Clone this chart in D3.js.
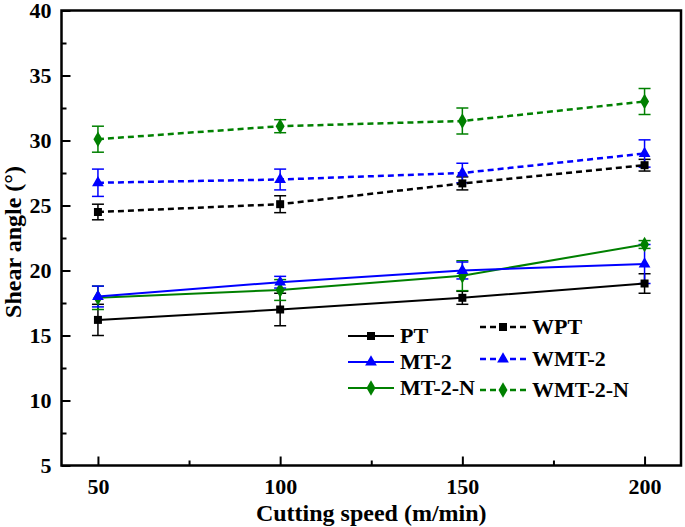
<!DOCTYPE html>
<html>
<head>
<meta charset="utf-8">
<script src="https://cdn.jsdelivr.net/npm/d3@7/dist/d3.min.js"></script>
<style>
  html, body { margin: 0; padding: 0; background: #fff; }
  svg { display: block; }
  text { font-family: "Liberation Serif", "Times New Roman", serif; font-weight: bold; fill: #000; }
</style>
</head>
<body>
<svg id="chart" width="685" height="527"></svg>
<script>
// ---- data ----
const speeds = [50, 100, 150, 200];
const seriesNames = ["PT", "MT-2", "MT-2-N", "WPT", "WMT-2", "WMT-2-N"];
const PT       = [16.2, 17.0, 17.9, 19.0];
const PT_err   = [1.2, 1.25, 0.5, 0.75];
const MT2      = [18.0, 19.1, 20.0, 20.5];
const MT2_err  = [0.8, 0.45, 0.65, 1.5];
const MT2N     = [17.9, 18.5, 19.6, 22.0];
const MT2N_err = [0.9, 0.8, 1.15, 0.3];
const WPT      = [24.5, 25.1, 26.7, 28.1];
const WPT_err  = [0.6, 0.65, 0.5, 0.45];
const WMT2     = [26.75, 27.0, 27.5, 29.0];
const WMT2_err = [1.05, 0.8, 0.75, 1.05];
const WMT2N    = [30.1, 31.1, 31.5, 33.0];
const WMT2N_err= [1.0, 0.5, 1.0, 1.0];
const xTicks = [50, 100, 150, 200];
const yTicks = [5, 10, 15, 20, 25, 30, 35, 40];
const xLabel = "Cutting speed (m/min)";
const yLabel = "Shear angle (°)";

const series = [
  {name: "WPT", vals: WPT, err: WPT_err, color: "#000000", dash: true, marker: "square"},
  {name: "WMT-2", vals: WMT2, err: WMT2_err, color: "#0000ff", dash: true, marker: "triangle"},
  {name: "WMT-2-N", vals: WMT2N, err: WMT2N_err, color: "#008000", dash: true, marker: "diamond"},
  {name: "PT", vals: PT, err: PT_err, color: "#000000", dash: false, marker: "square"},
  {name: "MT-2-N", vals: MT2N, err: MT2N_err, color: "#008000", dash: false, marker: "diamond"},
  {name: "MT-2", vals: MT2, err: MT2_err, color: "#0000ff", dash: false, marker: "triangle"}
];

// ---- layout ----
const svg = d3.select("#chart");
const L = 61.5, R = 681, T = 10.5, B = 465.5;
const x = d3.scaleLinear().domain([40, 210]).range([L, R]);
const y = d3.scaleLinear().domain([5, 40]).range([B, T]);

const symbolOf = m => m === "square" ? d3.symbolSquare : (m === "triangle" ? d3.symbolTriangle : d3.symbolDiamond);
const sizeOf = m => m === "square" ? 64 : (m === "triangle" ? 60 : 70);

// error bars
const gErr = svg.append("g");
series.forEach(s => {
  speeds.forEach((sp, i) => {
    const cx = x(sp), y1 = y(s.vals[i] + s.err[i]), y0 = y(s.vals[i] - s.err[i]);
    gErr.append("line").attr("x1", cx).attr("x2", cx).attr("y1", y1).attr("y2", y0)
      .attr("stroke", s.color).attr("stroke-width", 1.5);
    [y1, y0].forEach(yy => gErr.append("line").attr("x1", cx - 6).attr("x2", cx + 6)
      .attr("y1", yy).attr("y2", yy).attr("stroke", s.color).attr("stroke-width", 1.5));
  });
});

// lines
const line = d3.line().x(d => x(d[0])).y(d => y(d[1]));
series.forEach(s => {
  svg.append("path").datum(speeds.map((sp, i) => [sp, s.vals[i]]))
    .attr("d", line).attr("fill", "none").attr("stroke", s.color)
    .attr("stroke-width", s.dash ? 2.5 : 2)
    .attr("stroke-dasharray", s.dash ? "6,4" : null);
});

// markers
series.forEach(s => {
  svg.append("g").selectAll("path").data(speeds.map((sp, i) => [sp, s.vals[i]])).join("path")
    .attr("transform", d => `translate(${x(d[0])},${y(d[1])})`)
    .attr("d", d3.symbol().type(symbolOf(s.marker)).size(sizeOf(s.marker)))
    .attr("fill", s.color);
});

// axes
const xAxis = svg.append("g").attr("transform", `translate(0,${B})`)
  .call(d3.axisBottom(x).tickValues(xTicks).tickSize(-9).tickPadding(13).tickFormat(d3.format("d")));
const yAxis = svg.append("g").attr("transform", `translate(${L},0)`)
  .call(d3.axisLeft(y).tickValues(yTicks).tickSize(-9).tickPadding(10).tickFormat(d3.format("d")));
[xAxis, yAxis].forEach(g => {
  g.select(".domain").remove();
  g.selectAll(".tick line").attr("stroke", "#000").attr("stroke-width", 2);
  g.selectAll("text").style("font-size", "22px").style("font-family", "'Liberation Serif', serif").style("font-weight", "bold");
});
// minor ticks
const xMinor = [75, 125, 175];
const yMinor = [7.5, 12.5, 17.5, 22.5, 27.5, 32.5, 37.5];
svg.append("g").attr("transform", `translate(0,${B})`)
  .call(d3.axisBottom(x).tickValues(xMinor).tickSize(-5).tickFormat(""))
  .call(g => { g.select(".domain").remove(); g.selectAll("line").attr("stroke", "#000").attr("stroke-width", 2); });
svg.append("g").attr("transform", `translate(${L},0)`)
  .call(d3.axisLeft(y).tickValues(yMinor).tickSize(-5).tickFormat(""))
  .call(g => { g.select(".domain").remove(); g.selectAll("line").attr("stroke", "#000").attr("stroke-width", 2); });

// frame
svg.append("rect").attr("x", L).attr("y", T).attr("width", R - L).attr("height", B - T)
  .attr("fill", "none").attr("stroke", "#000").attr("stroke-width", 2.5);

// axis titles
svg.append("text").attr("x", (L + R) / 2).attr("y", 521).attr("text-anchor", "middle")
  .style("font-size", "24px").text(xLabel);
svg.append("text").attr("transform", `translate(21,${(T + B) / 2 + 4}) rotate(-90)`)
  .attr("text-anchor", "middle").style("font-size", "24px").text(yLabel);

// legend
const legendItems = [
  {name: "PT", col: 0, ly: 336}, {name: "MT-2", col: 0, ly: 362}, {name: "MT-2-N", col: 0, ly: 388},
  {name: "WPT", col: 1, ly: 327}, {name: "WMT-2", col: 1, ly: 359}, {name: "WMT-2-N", col: 1, ly: 390}
];
const colX = [348, 480];
legendItems.forEach(li => {
  const s = series.find(d => d.name === li.name);
  const x0 = colX[li.col], x1 = x0 + 46, xm = (x0 + x1) / 2;
  svg.append("line").attr("x1", x0).attr("x2", x1).attr("y1", li.ly).attr("y2", li.ly)
    .attr("stroke", s.color).attr("stroke-width", s.dash ? 2.5 : 2)
    .attr("stroke-dasharray", s.dash ? "6,4" : null);
  svg.append("path").attr("transform", `translate(${xm},${li.ly})`)
    .attr("d", d3.symbol().type(symbolOf(s.marker)).size(sizeOf(s.marker))).attr("fill", s.color);
  svg.append("text").attr("x", x1 + 6).attr("y", li.ly + 7).style("font-size", "22px").text(li.name);
});
</script>
</body>
</html>
